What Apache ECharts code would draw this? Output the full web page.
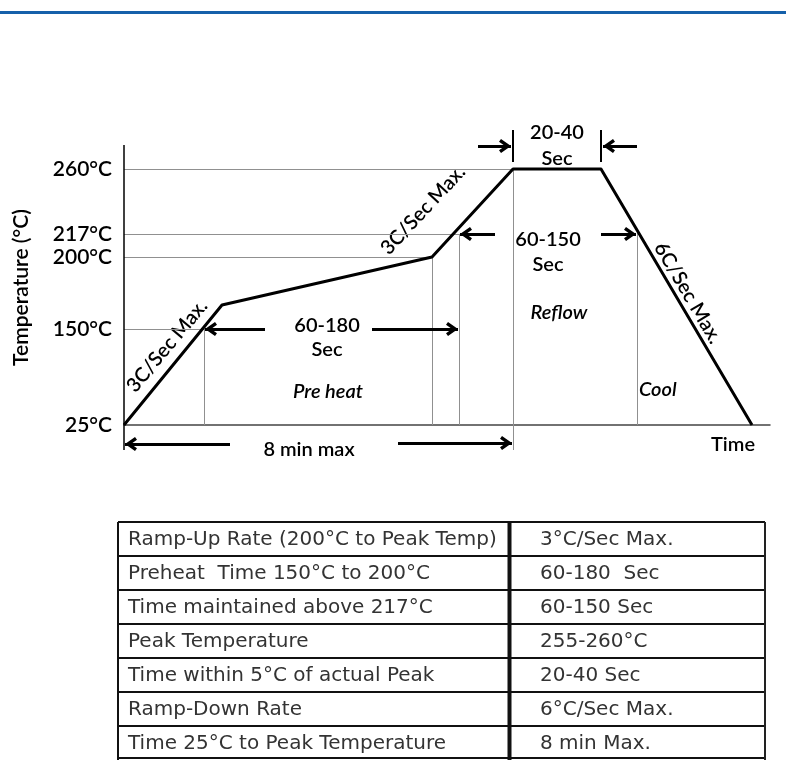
<!DOCTYPE html>
<html><head><meta charset="utf-8">
<script src="https://cdn.jsdelivr.net/npm/echarts@6/dist/echarts.min.js"></script>
<style>html,body{margin:0;padding:0;background:#fff}#c{width:786px;height:760px}</style>
</head><body><div id="c"></div><script>
// ---- data (schematic reflow profile; axis units are schematic positions) ----
const tempLabels = ['25°C', '150°C', '200°C', '217°C', '260°C'];
const tempLevels = [0, 96, 168, 191, 256];
const profileTime = [0, 98, 308, 389, 477, 628];
const profileTemp = [0, 120, 168, 256, 256, 0];
// guide lines: [t1, v1, t2, v2]
const guideLines = [
  [0, 256, 389, 256], [0, 191, 335, 191], [0, 168, 308, 168], [0, 96, 80, 96],
  [80, 96, 80, 0], [308, 168, 308, 0], [335, 191, 335, 0], [389, 256, 389, -25], [513, 192, 513, 0]
];
// arrows: [tailT, tailV, tipT, tipV]
const arrowLines = [
  [354, 279, 387, 279], [513, 279, 479, 279], [371, 191, 336, 191], [477, 191, 512, 191],
  [141, 96, 81, 96], [248, 96, 334, 96], [106, -19, 1, -19], [274, -18, 388, -18]
];
const tickLines = [[389, 295, 389, 263], [477, 295, 477, 263]];
const tableParams = ['Ramp-Up Rate (200°C to Peak Temp)', 'Preheat  Time 150°C to 200°C', 'Time maintained above 217°C',
  'Peak Temperature', 'Time within 5°C of actual Peak', 'Ramp-Down Rate', 'Time 25°C to Peak Temperature'];
const tableValues = ['3°C/Sec Max.', '60-180  Sec', '60-150 Sec', '255-260°C', '20-40 Sec', '6°C/Sec Max.', '8 min Max.'];

// ---- build ----
const chart = echarts.init(document.getElementById('c'));
const FONT = 'Lato, "Open Sans", sans-serif';
const chevron = 'path://M6,0 L12,10 L9.6,12 L6,6 L2.4,12 L0,10 Z';
const seg = a => [{ coord: [a[0], a[1]] }, { coord: [a[2], a[3]] }];

function txt(text, x, y, opt) {
  opt = opt || {};
  return {
    type: 'text', x: x, y: y, rotation: opt.rot || 0, silent: true,
    style: {
      text: text, fill: opt.fill || '#000',
      font: (opt.italic ? 'italic ' : '') + (opt.weight || '600') + ' ' + (opt.size || 20) + 'px ' + (opt.family || FONT),
      align: opt.align || 'center', verticalAlign: 'middle',
      textAlign: opt.align || 'center', textVerticalAlign: 'middle'
    }
  };
}
const D = Math.PI / 180;
const graphics = [
  { type: 'rect', shape: { x: 0, y: 11, width: 786, height: 3 }, style: { fill: '#1560aa' }, silent: true },
  txt('20-40', 557, 133), txt('Sec', 557, 159),
  txt('60-150', 548, 240), txt('Sec', 548, 265),
  txt('Reflow', 559, 313, { italic: true }),
  txt('Cool', 639, 390, { italic: true, align: 'left' }),
  txt('60-180', 327, 326), txt('Sec', 327, 350),
  txt('Pre heat', 328, 392, { italic: true }),
  txt('8 min max', 309, 450),
  txt('Time', 733, 445),
  txt('3C/Sec Max.', 167, 346, { rot: 50 * D }),
  txt('3C/Sec Max.', 423, 210, { rot: 47 * D }),
  txt('6C/Sec Max.', 688, 293, { rot: -59.5 * D })
];
// table
const tLeft = 118, tMid = 509.5, tRight = 765, tTop = 522, rowH = 34, tBottom = 758;
const TF = '"DejaVu Sans", Verdana, sans-serif';
for (let i = 0; i < tableParams.length; i++) {
  const cy = tTop + rowH * i + rowH / 2 + 1;
  graphics.push(txt(tableParams[i], 128, cy, { align: 'left', size: 20, weight: 'normal', family: TF, fill: '#333' }));
  graphics.push(txt(tableValues[i], 540, cy, { align: 'left', size: 20, weight: 'normal', family: TF, fill: '#333' }));
  graphics.push({ type: 'line', silent: true, shape: { x1: tLeft, y1: tTop + rowH * i, x2: tRight, y2: tTop + rowH * i }, style: { stroke: '#111', lineWidth: 2 } });
}
graphics.push({ type: 'line', silent: true, shape: { x1: tLeft, y1: tBottom, x2: tRight, y2: tBottom }, style: { stroke: '#111', lineWidth: 2 } });
graphics.push({ type: 'line', silent: true, shape: { x1: tLeft, y1: tTop, x2: tLeft, y2: 760 }, style: { stroke: '#111', lineWidth: 2 } });
graphics.push({ type: 'line', silent: true, shape: { x1: tMid, y1: tTop, x2: tMid, y2: 760 }, style: { stroke: '#111', lineWidth: 4 } });
graphics.push({ type: 'line', silent: true, shape: { x1: tRight, y1: tTop, x2: tRight, y2: 760 }, style: { stroke: '#222', lineWidth: 2 } });

chart.setOption({
  animation: false,
  backgroundColor: '#fff',
  grid: { left: 124, right: 16, top: 120, bottom: 305, containLabel: false, outerBoundsMode: 'none' },
  xAxis: {
    type: 'value', min: 0, max: 646,
    axisLine: { onZero: true, lineStyle: { color: '#444', width: 1.5 } },
    axisTick: { show: false }, axisLabel: { show: false }, splitLine: { show: false }
  },
  yAxis: {
    type: 'value', min: -30, max: 305,
    name: 'Temperature (°C)', nameLocation: 'middle', nameGap: 92, nameRotate: 90,
    nameTextStyle: { fontFamily: FONT, fontSize: 21, fontWeight: 600, color: '#000' },
    axisLine: { show: false }, axisTick: { show: false }, splitLine: { show: false },
    axisLabel: {
      customValues: tempLevels, margin: 12, fontFamily: FONT, fontSize: 21, fontWeight: 600, color: '#000',
      formatter: v => { const k = tempLevels.indexOf(v); return k >= 0 ? tempLabels[k] : ''; }
    }
  },
  graphic: graphics,
  series: [
    {
      name: 'guides', type: 'line', data: [], silent: true,
      markLine: {
        silent: true, symbol: 'none', label: { show: false }, emphasis: { disabled: true },
        lineStyle: { color: '#909090', width: 1, type: 'solid' },
        data: guideLines.map(seg).concat([[{ coord: [0, 280], lineStyle: { color: '#000', width: 1.5 } }, { coord: [0, -25] }]])
      }
    },
    {
      name: 'profile', type: 'line', silent: true, symbol: 'none',
      data: profileTime.map((t, i) => [t, profileTemp[i]]),
      lineStyle: { color: '#000', width: 3, join: 'round' }, z: 5
    },
    {
      name: 'arrows', type: 'line', data: [], silent: true, z: 6,
      markLine: {
        silent: true, symbol: ['none', chevron], symbolSize: [14, 12], symbolOffset: [0, [0, 6]],
        label: { show: false }, emphasis: { disabled: true },
        lineStyle: { color: '#000', width: 3, type: 'solid' },
        data: arrowLines.map(seg)
      }
    },
    {
      name: 'ticks', type: 'line', data: [], silent: true, z: 6,
      markLine: {
        silent: true, symbol: 'none', label: { show: false }, emphasis: { disabled: true },
        lineStyle: { color: '#000', width: 2, type: 'solid' },
        data: tickLines.map(seg)
      }
    }
  ]
});
</script></body></html>
